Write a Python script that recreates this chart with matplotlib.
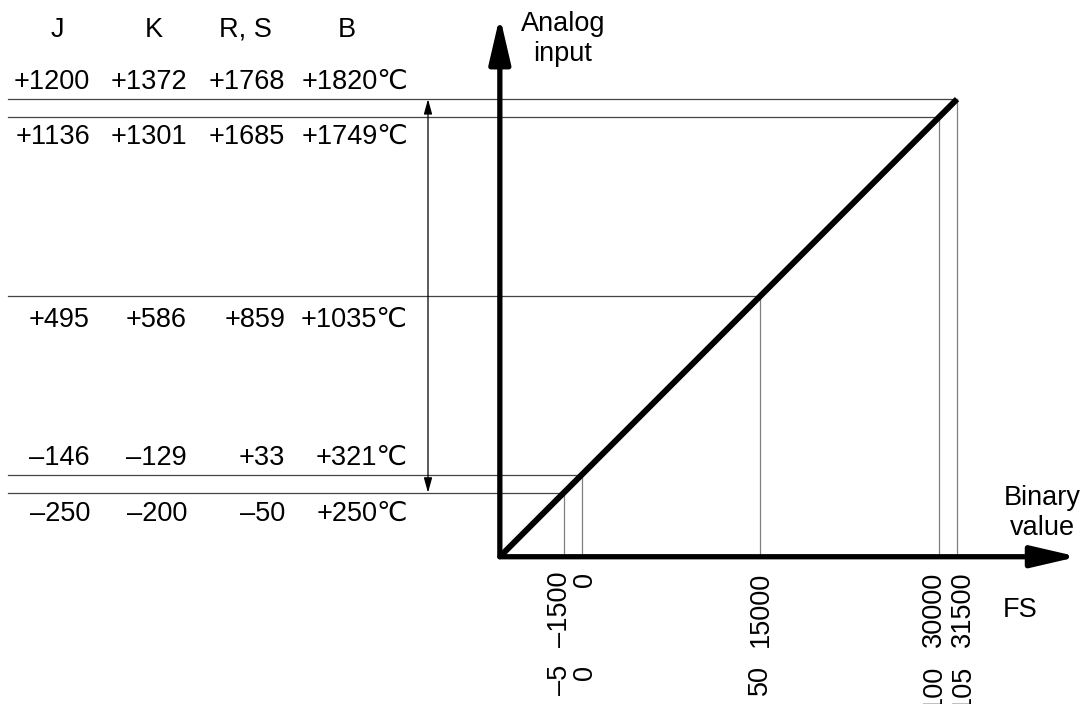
import matplotlib.pyplot as plt
from matplotlib.transforms import blended_transform_factory

# binary values and matching percent of full scale
binary = [-1500, 0, 15000, 30000, 31500]
fs_pct = [-5, 0, 50, 100, 105]

# thermocouple temperatures per level (J, K, R/S, B)
types = ['J', 'K', 'R, S', 'B']
temp_J = ['\u2013250', '\u2013146', '+495', '+1136', '+1200']
temp_K = ['\u2013200', '\u2013129', '+586', '+1301', '+1372']
temp_RS = ['\u201350', '+33', '+859', '+1685', '+1768']
temp_B = ['+250\u2103', '+321\u2103', '+1035\u2103', '+1749\u2103', '+1820\u2103']

plt.rcParams['font.family'] = ['Liberation Sans', 'DejaVu Sans']
fs = 19.5

fig = plt.figure(figsize=(10.87, 7.04), dpi=100)
ax = fig.add_axes([0, 0, 1, 1])
ax.set_xlim(-48820, 42409)
ax.set_ylim(-19218, 39813)
ax.axis('off')

x0 = ax.get_xlim()[0]
x1 = ax.get_xlim()[1]
origin = -6870
left = x0 + 8 / 1087 * (x1 - x0)

# guide lines
for v in binary:
    ax.plot([left, v], [v, v], color='#444444', lw=0.9)
    ax.plot([v, v], [origin, v], color='#808080', lw=0.9)

# characteristic
ax.plot([origin, binary[-1]], [origin, binary[-1]], color='black', lw=4.3,
        solid_capstyle='butt')

# axes with arrows
arrow = dict(arrowstyle='-|>,head_length=28,head_width=6.5', lw=3.8,
             color='black', mutation_scale=1, shrinkA=0, shrinkB=0)
ax.annotate('', xy=(origin, 38450), xytext=(origin, origin), arrowprops=arrow)
ax.annotate('', xy=(41650, origin), xytext=(origin, origin), arrowprops=arrow)

# range arrow
tr_xfrac = blended_transform_factory(ax.transAxes, ax.transData)
ax.annotate('', xy=(428 / 1087, binary[-1]), xycoords=tr_xfrac,
            xytext=(428 / 1087, binary[0]), textcoords=tr_xfrac,
            arrowprops=dict(arrowstyle='<|-|>,head_length=9,head_width=2.5',
                            lw=0.9, color='black', mutation_scale=1,
                            shrinkA=0, shrinkB=0))

# temperature table
col_right = [90, 187, 285, 408]
col_center = [57, 154, 245, 347]
offsets = [-21, 17, -24, -20, 17]
for j, name in enumerate(types):
    ax.text(col_center[j] / 1087, 1 - 30 / 704, name, transform=ax.transAxes,
            ha='center', va='center', fontsize=fs)
for j, col in enumerate([temp_J, temp_K, temp_RS, temp_B]):
    for i, v in enumerate(binary):
        ax.annotate(col[i], xy=(col_right[j] / 1087, v), xycoords=tr_xfrac,
                    xytext=(0, offsets[i]), textcoords='offset pixels',
                    ha='right', va='center', fontsize=fs)

# x tick labels (binary and % FS), nudged apart where lines are close
nudge = [-4, 3, 0, -5, 6]
for v, p, dx in zip(binary, fs_pct, nudge):
    lab = str(v).replace('-', '\u2013')
    ax.annotate(lab, xy=(v, origin), xytext=(dx, -15), textcoords='offset pixels',
                rotation=90, ha='center', va='top', fontsize=fs)
    ax.annotate(str(p).replace('-', '\u2013'), xy=(v, origin), xytext=(dx, -108),
                textcoords='offset pixels', rotation=90, ha='center', va='top',
                fontsize=fs)

ax.text(563 / 1087, 1 - 39 / 704, 'Analog\ninput', transform=ax.transAxes,
        ha='center', va='center', fontsize=fs, linespacing=1.2)
ax.text(1042 / 1087, 1 - 513 / 704, 'Binary\nvalue', transform=ax.transAxes,
        ha='center', va='center', fontsize=fs, linespacing=1.2)
ax.text(1020 / 1087, 1 - 610 / 704, 'FS', transform=ax.transAxes,
        ha='center', va='center', fontsize=fs)

fig.savefig('out.png', dpi=100)
